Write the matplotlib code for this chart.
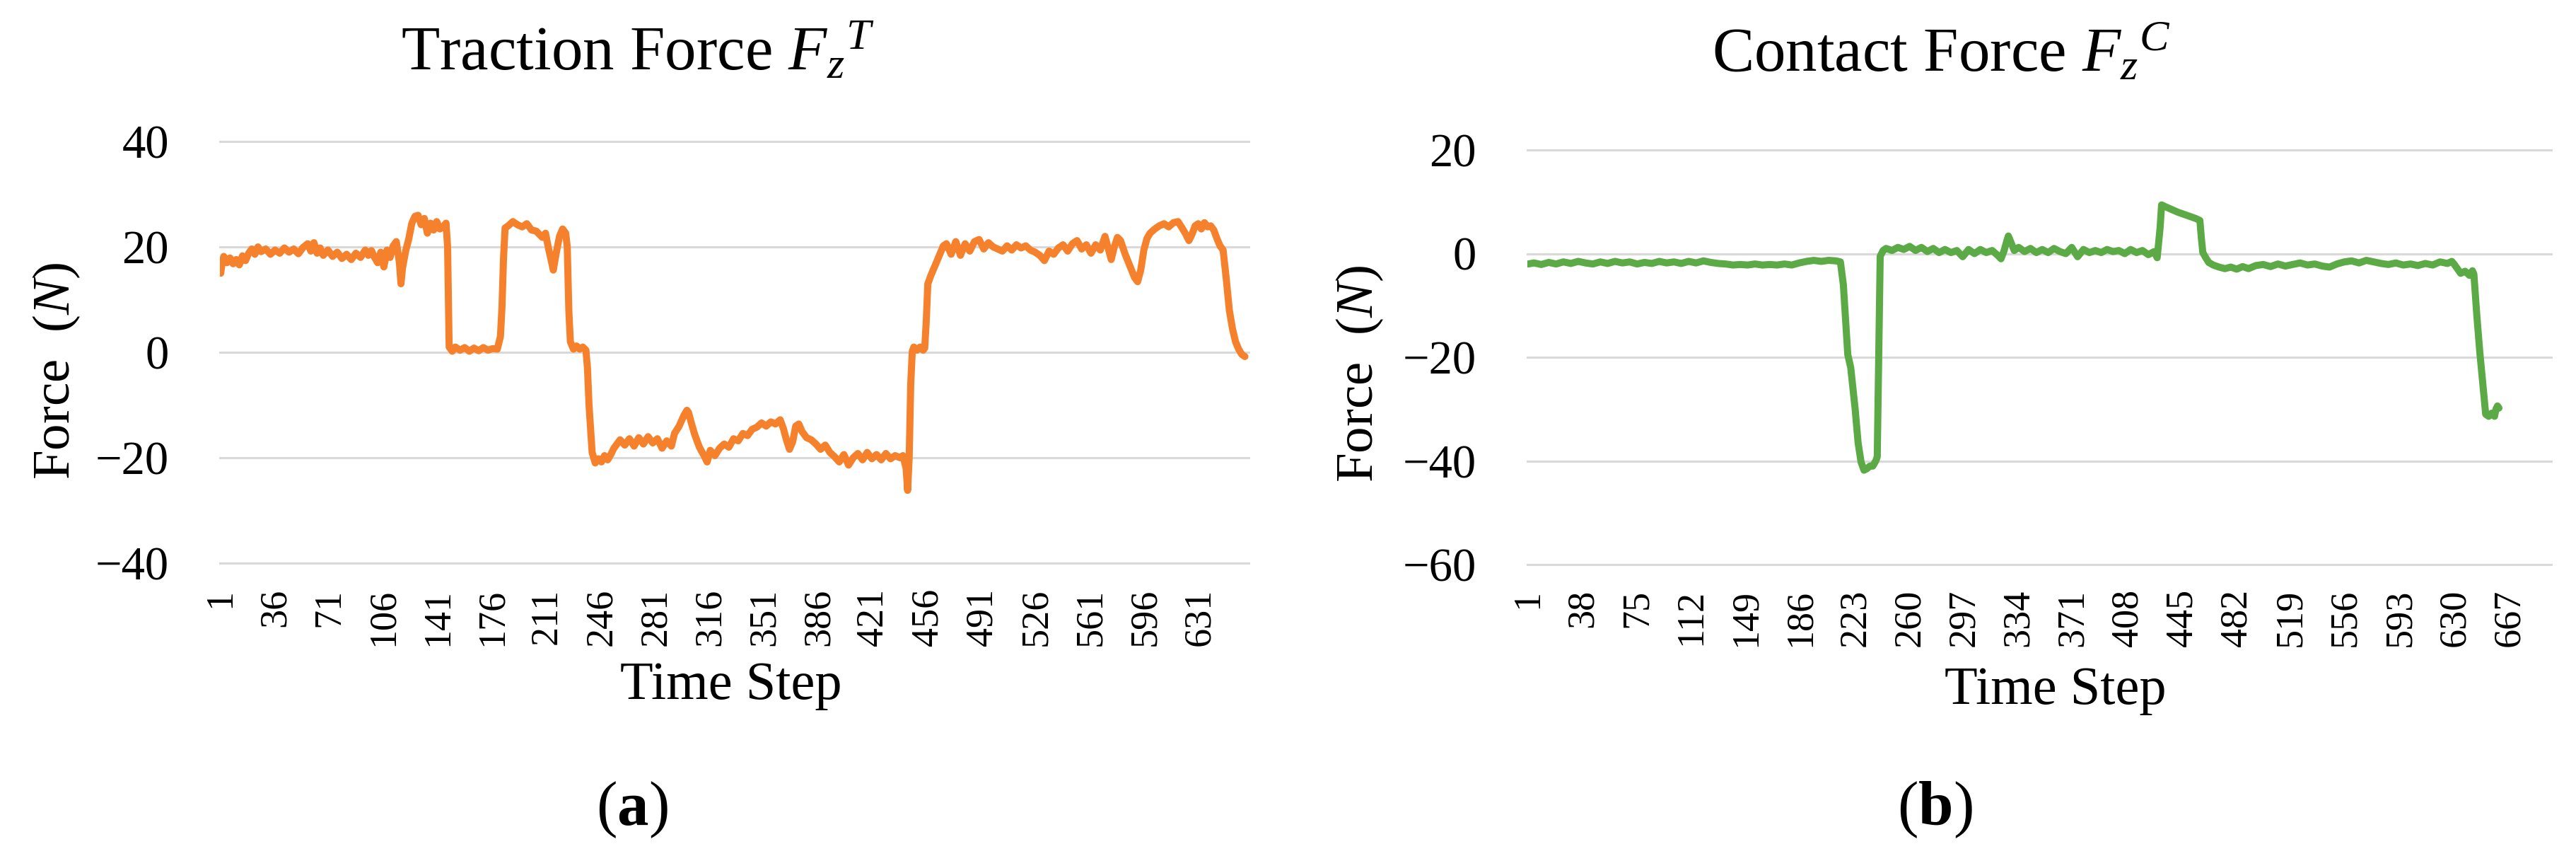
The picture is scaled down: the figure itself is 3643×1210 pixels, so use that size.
import matplotlib
matplotlib.use('Agg')
import matplotlib.pyplot as plt

plt.rcParams['font.family'] = ['Liberation Serif', 'DejaVu Serif']
plt.rcParams['mathtext.fontset'] = 'custom'
plt.rcParams['mathtext.rm'] = 'Liberation Serif'
plt.rcParams['mathtext.it'] = 'Liberation Serif:italic'
plt.rcParams['mathtext.bf'] = 'Liberation Serif:bold'
plt.rcParams['axes.unicode_minus'] = True

# ---------------- data ----------------
traction_steps = [
    1, 2, 3, 5, 7, 9, 11, 13, 15, 17,
    19, 21, 23, 25, 27, 30, 33, 36, 39, 42,
    45, 48, 51, 54, 57, 59, 61, 63, 65, 67,
    70, 73, 76, 79, 82, 85, 88, 91, 94, 96,
    98, 100, 102, 104, 106, 108, 110, 112, 114, 116,
    117, 118, 120, 122, 124, 126, 128, 130, 132, 134,
    136, 138, 140, 142, 144, 146, 147, 148, 150, 152,
    155, 158, 161, 164, 167, 170, 173, 176, 179, 181,
    182, 183, 184, 186, 189, 192, 195, 198, 201, 204,
    206, 208, 210, 212, 214, 215, 217, 219, 221, 223,
    224, 225, 226, 228, 230, 232, 234, 236, 237, 238,
    240, 242, 244, 246, 248, 250, 252, 254, 256, 258,
    261, 264, 267, 270, 273, 276, 279, 282, 285, 288,
    291, 293, 296, 299, 301, 302, 304, 306, 309, 312,
    314, 316, 319, 322, 325, 328, 331, 334, 337, 340,
    343, 346, 349, 352, 355, 358, 361, 363, 365, 367,
    369, 371, 373, 375, 378, 381, 384, 387, 390, 393,
    396, 399, 402, 405, 408, 411, 414, 417, 420, 423,
    426, 429, 432, 435, 438, 440, 442, 443, 444, 445,
    446, 447, 449, 451, 453, 454, 455, 456, 458, 460,
    462, 464, 466, 468, 471, 474, 477, 480, 483, 486,
    489, 492, 495, 498, 501, 504, 507, 510, 513, 516,
    519, 522, 525, 528, 531, 534, 537, 540, 543, 546,
    549, 552, 555, 558, 561, 564, 567, 570, 572, 574,
    576, 578, 580, 583, 586, 589, 591, 593, 595, 597,
    599, 602, 605, 608, 611, 614, 617, 620, 622, 624,
    626, 628, 630, 632, 634, 636, 638, 640, 642, 644,
    646, 648, 650, 652, 654, 656, 658, 660,
]
traction_force = [
    15.0, 17.2, 18.2, 17.0, 17.9, 16.8, 17.6, 16.6, 18.3, 17.4,
    18.8, 19.6, 18.6, 20.0, 19.1, 19.6, 18.6, 19.4, 18.8, 19.8,
    19.0, 19.6, 18.7, 19.9, 20.6, 19.2, 20.8, 18.8, 19.8, 18.4,
    19.4, 18.2, 19.0, 17.8, 18.6, 17.6, 18.8, 18.0, 19.4, 18.4,
    19.3, 18.0, 17.0, 19.0, 16.2, 19.4, 18.0, 20.2, 21.0, 17.0,
    13.0, 16.0, 19.2, 21.5, 24.5, 25.8, 26.0, 24.2, 25.4, 22.6,
    24.5, 23.2, 24.8, 23.4, 23.8, 24.5, 20.0, 1.0, 0.2, 1.0,
    0.4, 0.9, 0.2, 0.8, 0.3, 0.9, 0.4, 0.7, 0.6, 3.0,
    8.6, 18.0, 23.6, 24.0, 24.8, 24.2, 23.8, 24.4, 23.2, 23.0,
    22.4, 21.8, 22.6, 19.6, 17.0, 15.6, 19.0, 22.0, 23.4, 22.6,
    20.0, 8.0, 2.0, 0.6, 1.2, 0.6, 1.0, 0.4, -3.0, -10.0,
    -19.0, -21.0, -20.2, -20.8, -19.6, -20.4, -19.4, -18.2, -17.4, -16.6,
    -17.6, -16.4, -17.8, -16.2, -17.4, -16.0, -17.2, -16.4, -18.2, -16.8,
    -17.8, -15.4, -14.0, -12.0, -11.0, -11.4, -13.6, -15.6, -18.0, -19.6,
    -20.8, -18.6, -19.6, -18.2, -17.4, -18.0, -16.4, -16.8, -15.4, -15.8,
    -14.6, -14.2, -13.4, -14.0, -13.2, -13.6, -12.8, -14.4, -16.6, -18.4,
    -17.0, -14.0, -13.6, -15.0, -16.2, -16.6, -17.4, -18.4, -17.6, -19.0,
    -19.8, -20.8, -19.4, -21.4, -20.0, -19.2, -20.4, -19.0, -20.2, -19.4,
    -20.4, -19.2, -20.2, -19.6, -20.0, -19.6, -22.0, -26.2, -20.0, -6.0,
    0.2, 1.0, 0.4, 1.0, 0.4, 0.8, 6.0, 13.0, 14.6, 16.0,
    17.4, 18.8, 20.2, 20.6, 18.6, 21.0, 18.4, 20.6, 19.2, 21.0,
    21.4, 19.6, 20.8, 20.0, 19.6, 19.2, 20.2, 19.4, 20.4, 19.8,
    20.2, 19.4, 19.0, 18.4, 17.4, 19.2, 18.6, 19.8, 20.4, 19.2,
    20.6, 21.2, 19.6, 20.4, 18.8, 20.4, 19.4, 22.0, 19.8, 17.6,
    20.0, 21.8, 21.2, 18.6, 16.4, 14.2, 13.4, 15.6, 19.4, 21.6,
    22.6, 23.4, 24.0, 24.4, 23.8, 24.6, 24.8, 23.4, 22.4, 21.2,
    22.4, 24.0, 24.4, 23.4, 24.6, 23.8, 24.0, 23.2, 21.6, 20.2,
    19.4, 14.0, 8.0, 4.5, 2.0, 0.6, -0.4, -0.8,
]

contact_steps = [
    1, 5, 10, 15, 20, 25, 30, 35, 40, 45,
    50, 55, 60, 65, 70, 75, 80, 85, 90, 95,
    100, 105, 110, 115, 120, 125, 130, 135, 140, 145,
    150, 155, 160, 165, 170, 175, 180, 185, 190, 195,
    200, 205, 210, 213, 215, 217, 218, 220, 223, 225,
    227, 229, 231, 233, 235, 237, 238, 239, 240, 242,
    244, 248, 252, 256, 260, 264, 268, 272, 276, 280,
    284, 288, 292, 296, 300, 304, 308, 312, 316, 320,
    322, 324, 326, 327, 329, 331, 334, 338, 342, 346,
    350, 354, 358, 362, 366, 370, 374, 378, 382, 386,
    390, 394, 398, 402, 406, 410, 414, 418, 422, 426,
    428, 430, 431, 434, 438, 442, 446, 450, 454, 457,
    458, 459, 461, 463, 466, 470, 474, 478, 482, 486,
    490, 495, 500, 505, 510, 515, 520, 525, 530, 535,
    540, 545, 550, 555, 560, 565, 570, 575, 580, 585,
    590, 595, 600, 605, 610, 615, 620, 625, 628, 630,
    632, 634, 637, 640, 642, 643, 645, 647, 649, 651,
    653, 655, 657, 658, 659, 660,
]
contact_force = [
    -2.0, -1.8, -2.1, -1.7, -2.0, -1.6, -1.9, -1.5, -1.8, -2.0,
    -1.6, -1.9, -1.5, -1.8, -1.6, -2.0, -1.7, -1.9, -1.5, -1.8,
    -1.6, -1.9, -1.5, -1.8, -1.4, -1.7, -1.9, -2.0, -2.2, -2.1,
    -2.2, -2.0, -2.2, -2.1, -2.2, -2.0, -2.2, -1.8, -1.5, -1.3,
    -1.5, -1.3, -1.4, -1.6, -6.0, -15.0, -19.5, -22.0, -30.0, -36.5,
    -40.2, -41.8, -41.5, -41.0, -41.0, -40.0, -39.2, -20.0, -0.5, 0.6,
    1.0, 0.6, 1.2, 0.8, 1.4, 0.6, 1.2, 0.4, 1.0, 0.2,
    0.8, 0.2, 0.6, -0.6, 0.8, 0.0, 0.8, 0.2, 0.6, -0.4,
    -1.0, 0.5, 2.5, 3.4, 2.0, 0.6, 1.2, 0.4, 1.0, 0.2,
    0.8, 0.2, 1.0, 0.4, 0.0, 1.2, -0.6, 0.8, 0.2, 0.6,
    0.2, 0.8, 0.4, 0.6, 0.0, 0.8, 0.2, 0.6, -0.2, 0.4,
    -0.8, 5.0, 9.4, 9.0, 8.5, 8.0, 7.6, 7.2, 6.8, 6.4,
    3.0, 0.2, -0.8, -1.7, -2.2, -2.6, -2.9, -2.6, -3.0, -2.5,
    -2.9, -2.3, -2.1, -2.5, -2.0, -2.4, -2.1, -1.8, -2.2, -2.0,
    -2.4, -2.6, -2.0, -1.6, -1.4, -1.8, -1.3, -1.6, -1.9, -2.1,
    -1.8, -2.2, -2.0, -2.3, -1.9, -2.2, -1.6, -1.9, -1.5, -2.2,
    -3.0, -3.8, -3.4, -4.2, -3.3, -4.0, -12.0, -19.0, -25.0, -31.0,
    -31.4, -30.8, -31.4, -30.0, -29.4, -29.8,
]

traction_xticks = [1, 36, 71, 106, 141, 176, 211, 246, 281, 316, 351, 386,
                   421, 456, 491, 526, 561, 596, 631]
contact_xticks = [1, 38, 75, 112, 149, 186, 223, 260, 297, 334, 371, 408,
                  445, 482, 519, 556, 593, 630, 667]
traction_yticks = [-40, -20, 0, 20, 40]
contact_yticks = [-60, -40, -20, 0, 20]
traction_n = 662
contact_n = 695

ORANGE = '#F5812C'
GREEN = '#5BAA46'
GRID = '#D9D9D9'

W, H = 3643, 1210
fig = plt.figure(figsize=(W / 100, H / 100), dpi=100)


def box(x0, y0, x1, y1):
    return [x0 / W, 1 - y1 / H, (x1 - x0) / W, (y1 - y0) / H]


def style(ax, xticks, yticks, n, xpad):
    ax.set_xlim(0.5, n + 0.5)
    ax.set_ylim(yticks[0], yticks[-1])
    ax.set_yticks(yticks)
    ax.set_xticks(xticks)
    ax.set_xticklabels([str(t) for t in xticks], rotation=90)
    for s in ax.spines.values():
        s.set_visible(False)
    ax.tick_params(axis='y', length=0, pad=52, labelsize=48)
    ax.tick_params(axis='x', length=0, pad=xpad, labelsize=39)
    ax.yaxis.grid(True, color=GRID, lw=2.2)
    for gl in ax.get_ygridlines():
        gl.set_clip_on(False)
    ax.set_axisbelow(True)


ax1 = fig.add_axes(box(311, 200, 1766, 796))
ax1.plot(traction_steps, traction_force, color=ORANGE, lw=7.2,
         solid_joinstyle='round', solid_capstyle='round')
style(ax1, traction_xticks, traction_yticks, traction_n, 26)

ax2 = fig.add_axes(box(2160, 212, 3608, 798))
ax2.plot(contact_steps, contact_force, color=GREEN, lw=7.2,
         solid_joinstyle='round', solid_capstyle='round')
style(ax2, contact_xticks, contact_yticks, contact_n, 25)


def ftext(x, y, s, **kw):
    fig.text(x / W, 1 - y / H, s, **kw)


ftext(902, 99, r'Traction Force $F_z{}^T$', fontsize=64, ha='center', va='baseline')
ftext(2745, 101, r'Contact Force $F_z{}^C$', fontsize=64, ha='center', va='baseline')

ftext(80, 524, r'Force  ($N$)', fontsize=54, rotation=90, ha='center', va='center')
ftext(1923, 528, r'Force  ($N$)', fontsize=54, rotation=90, ha='center', va='center')

ftext(1034, 988, 'Time Step', fontsize=55, ha='center', va='baseline')
ftext(2907, 995, 'Time Step', fontsize=55, ha='center', va='baseline')

ftext(894, 1145, r'($\mathbf{a}$)', fontsize=64, ha='center', va='center')
ftext(2736, 1145, r'($\mathbf{b}$)', fontsize=64, ha='center', va='center')

fig.savefig('out.png', dpi=100)
